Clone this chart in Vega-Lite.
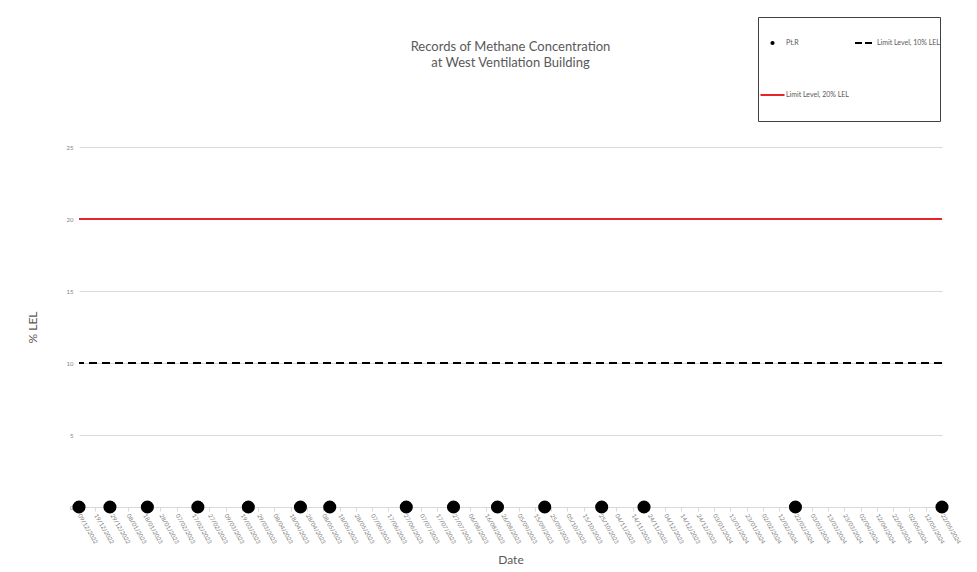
{
  "$schema": "https://vega.github.io/schema/vega-lite/v6.json",
  "width": 863,
  "height": 360,
  "autosize": "none",
  "padding": {"left": 79, "top": 147, "right": 35, "bottom": 65},
  "background": "white",
  "config": {
    "font": "Lato",
    "view": {"stroke": null},
    "axis": {"labelColor": "#7f7f7f", "titleColor": "#595959", "titleFontWeight": "normal", "gridColor": "#d9d9d9", "domainColor": "#d9d9d9", "tickColor": "#d9d9d9"}
  },
  "title": {
    "text": ["Records of Methane Concentration", "at West Ventilation Building"],
    "fontSize": 13,
    "fontWeight": "normal",
    "color": "#595959",
    "anchor": "middle",
    "frame": "group",
    "offset": -53,
    "lineHeight": 16
  },
  "datasets": {
    "points": [
      {"date": "2022/12/09", "value": 0},
      {"date": "2022/12/28", "value": 0},
      {"date": "2023/01/20", "value": 0},
      {"date": "2023/02/20", "value": 0},
      {"date": "2023/03/23", "value": 0},
      {"date": "2023/04/24", "value": 0},
      {"date": "2023/05/12", "value": 0},
      {"date": "2023/06/28", "value": 0},
      {"date": "2023/07/27", "value": 0},
      {"date": "2023/08/23", "value": 0},
      {"date": "2023/09/21", "value": 0},
      {"date": "2023/10/26", "value": 0},
      {"date": "2023/11/21", "value": 0},
      {"date": "2024/02/22", "value": 0},
      {"date": "2024/05/22", "value": 0}
    ],
    "limits": [
      {"series": "Limit Level, 10% LEL", "level": 10},
      {"series": "Limit Level, 20% LEL", "level": 20}
    ]
  },
  "layer": [
    {
      "data": {"name": "limits"},
      "mark": {"type": "rule", "strokeWidth": 2},
      "encoding": {
        "y": {"field": "level", "type": "quantitative"},
        "color": {
          "field": "series",
          "type": "nominal",
          "scale": {"domain": ["Pt.R", "Limit Level, 10% LEL", "Limit Level, 20% LEL"], "range": ["#000000", "#000000", "#e8232a"]},
          "legend": {
            "title": null,
            "values": ["Pt.R", "Limit Level, 20% LEL", "Limit Level, 10% LEL"],
            "orient": "none",
            "legendX": 679,
            "legendY": -130,
            "columns": 2,
            "columnPadding": -25,
            "rowPadding": 0,
            "padding": 0,
            "clipHeight": 52,
            "strokeColor": "#404040",
            "fillColor": "white",
            "labelFontSize": 7,
            "labelColor": "#595959",
            "symbolSize": 100,
            "symbolOffset": 11,
            "labelOffset": 10,
            "symbolStrokeWidth": 2,
            "encode": {
              "symbols": {
                "update": {
                  "shape": {"signal": "datum.label === 'Pt.R' ? 'circle' : 'stroke'"},
                  "size": {"signal": "datum.label === 'Pt.R' ? 18 : datum.label === 'Limit Level, 20% LEL' ? 576 : 289"},
                  "fill": {"signal": "datum.label === 'Pt.R' ? '#000000' : 'transparent'"},
                  "stroke": {"signal": "datum.label === 'Limit Level, 20% LEL' ? '#e8232a' : '#000000'"},
                  "strokeDash": {"signal": "datum.label === 'Limit Level, 10% LEL' ? [7, 3] : [1, 0]"},
                  "strokeWidth": {"signal": "datum.label === 'Pt.R' ? 0 : 2"}
                }
              }
            }
          }
        },
        "strokeDash": {"condition": {"test": "datum.level === 10", "value": [8, 5]}, "value": [1, 0]}
      }
    },
    {
      "data": {"name": "points"},
      "mark": {"type": "point", "filled": true, "opacity": 1, "size": 170, "shape": "circle"},
      "encoding": {
        "x": {
          "field": "date",
          "type": "temporal",
          "scale": {"domain": [{"year": 2022, "month": 12, "date": 9}, {"year": 2024, "month": 5, "date": 22}]},
          "axis": {
            "title": "Date",
            "titleColor": "#595959",
            "titleFontSize": 12,
            "titlePadding": 10,
            "format": "%d/%m/%Y",
            "labelAngle": 60,
            "labelAlign": "left",
            "labelBaseline": "middle",
            "labelFontSize": 6,
            "labelPadding": 3,
            "labelOverlap": false,
            "labelBound": false,
            "labelFlush": false,
            "grid": false,
            "tickSize": 4,
            "values": [
              {"year": 2022, "month": 12, "date": 9}, {"year": 2022, "month": 12, "date": 19}, {"year": 2022, "month": 12, "date": 29},
              {"year": 2023, "month": 1, "date": 8}, {"year": 2023, "month": 1, "date": 18}, {"year": 2023, "month": 1, "date": 28},
              {"year": 2023, "month": 2, "date": 7}, {"year": 2023, "month": 2, "date": 17}, {"year": 2023, "month": 2, "date": 27},
              {"year": 2023, "month": 3, "date": 9}, {"year": 2023, "month": 3, "date": 19}, {"year": 2023, "month": 3, "date": 29},
              {"year": 2023, "month": 4, "date": 8}, {"year": 2023, "month": 4, "date": 18}, {"year": 2023, "month": 4, "date": 28},
              {"year": 2023, "month": 5, "date": 8}, {"year": 2023, "month": 5, "date": 18}, {"year": 2023, "month": 5, "date": 28},
              {"year": 2023, "month": 6, "date": 7}, {"year": 2023, "month": 6, "date": 17}, {"year": 2023, "month": 6, "date": 27},
              {"year": 2023, "month": 7, "date": 7}, {"year": 2023, "month": 7, "date": 17}, {"year": 2023, "month": 7, "date": 27},
              {"year": 2023, "month": 8, "date": 6}, {"year": 2023, "month": 8, "date": 16}, {"year": 2023, "month": 8, "date": 26},
              {"year": 2023, "month": 9, "date": 5}, {"year": 2023, "month": 9, "date": 15}, {"year": 2023, "month": 9, "date": 25},
              {"year": 2023, "month": 10, "date": 5}, {"year": 2023, "month": 10, "date": 15}, {"year": 2023, "month": 10, "date": 25},
              {"year": 2023, "month": 11, "date": 4}, {"year": 2023, "month": 11, "date": 14}, {"year": 2023, "month": 11, "date": 24},
              {"year": 2023, "month": 12, "date": 4}, {"year": 2023, "month": 12, "date": 14}, {"year": 2023, "month": 12, "date": 24},
              {"year": 2024, "month": 1, "date": 3}, {"year": 2024, "month": 1, "date": 13}, {"year": 2024, "month": 1, "date": 23},
              {"year": 2024, "month": 2, "date": 2}, {"year": 2024, "month": 2, "date": 12}, {"year": 2024, "month": 2, "date": 22},
              {"year": 2024, "month": 3, "date": 3}, {"year": 2024, "month": 3, "date": 13}, {"year": 2024, "month": 3, "date": 23},
              {"year": 2024, "month": 4, "date": 2}, {"year": 2024, "month": 4, "date": 12}, {"year": 2024, "month": 4, "date": 22},
              {"year": 2024, "month": 5, "date": 2}, {"year": 2024, "month": 5, "date": 12}, {"year": 2024, "month": 5, "date": 22}
            ]
          }
        },
        "y": {
          "field": "value",
          "type": "quantitative",
          "scale": {"domain": [0, 25], "nice": false},
          "axis": {
            "title": "% LEL",
            "titleColor": "#595959",
            "titleFontSize": 12,
            "titlePadding": 27,
            "values": [0, 5, 10, 15, 20, 25],
            "labelFontSize": 6,
            "labelPadding": 6,
            "domain": false,
            "ticks": false,
            "grid": true
          }
        },
        "color": {"datum": "Pt.R", "type": "nominal", "legend": null}
      }
    }
  ],
  "resolve": {"scale": {"color": "shared"}}
}
